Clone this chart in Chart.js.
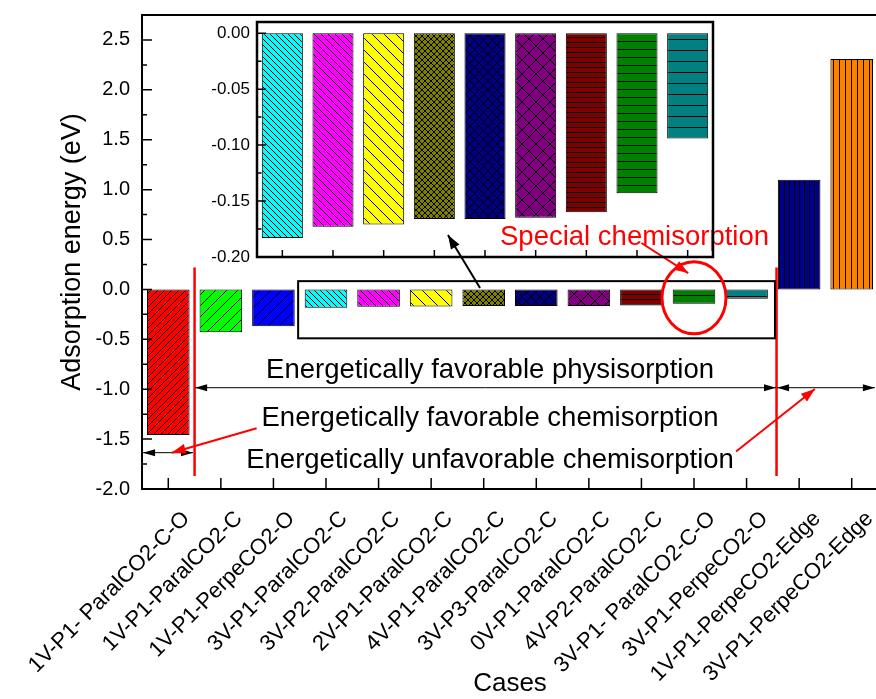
<!DOCTYPE html>
<html>
<head>
<meta charset="utf-8">
<script src="https://cdn.jsdelivr.net/npm/chart.js@4.4.1/dist/chart.umd.min.js"></script>
<style>
  html, body { margin: 0; padding: 0; background: #fff; overflow: hidden; }
  #wrap { position: relative; width: 876px; height: 699px; overflow: hidden; background: #fff; }
  #main { position: absolute; left: 0; top: 0; width: 890px; height: 699px; }
  #inset { position: absolute; left: 200px; top: 18px; width: 520px; height: 250px; }
</style>
</head>
<body>
<div id="wrap">
  <div id="main"><canvas id="mainChart"></canvas></div>
  <div id="inset"><canvas id="insetChart"></canvas></div>
</div>
<script>
// adsorption cases and energies (eV)
const cases = [
  '1V-P1- ParalCO2-C-O', '1V-P1-ParalCO2-C', '1V-P1-PerpeCO2-O', '3V-P1-ParalCO2-C',
  '3V-P2-ParalCO2-C', '2V-P1-ParalCO2-C', '4V-P1-ParalCO2-C', '3V-P3-ParalCO2-C',
  '0V-P1-ParalCO2-C', '4V-P2-ParalCO2-C', '3V-P1- ParalCO2-C-O', '3V-P1-PerpeCO2-O',
  '1V-P1-PerpeCO2-Edge', '3V-P1-PerpeCO2-Edge'
];
const energies = [-1.46, -0.43, -0.37, -0.183, -0.173, -0.171, -0.166, -0.166, -0.165, -0.160, -0.143, -0.094, 1.10, 2.31];

// zoomed inset shows the physisorption cases only
const insetCases = cases.slice(3, 12);
const insetEnergies = energies.slice(3, 12);

const barColors = ['#FF0000', '#00FF00', '#0000FF', '#00FFFF', '#FF00FF', '#FFFF00', '#808000',
                   '#000080', '#800080', '#800000', '#008000', '#008080', '#00008C', '#FF8000'];
const hatchKinds = ['/', '/', '/', '\\', '\\', '\\', 'x', 'x', 'x', '-', '-', '-', '|', '|'];
const hatchGaps = [7, 11, 11, 6, 7, 12, 6, 9, 14, 5, 8, 11, 5, 6];

Chart.defaults.font.family = "'Liberation Sans', Arial, sans-serif";
Chart.defaults.color = '#000';

function hatch(color, kind, s) {
  const c = document.createElement('canvas');
  c.width = s; c.height = s;
  const g = c.getContext('2d');
  g.fillStyle = color;
  g.fillRect(0, 0, s, s);
  g.strokeStyle = '#000';
  g.lineWidth = 1;
  g.beginPath();
  if (kind === '/' || kind === 'x') {
    g.moveTo(-1, s + 1); g.lineTo(s + 1, -1);
    g.moveTo(-1, 1); g.lineTo(1, -1);
    g.moveTo(s - 1, s + 1); g.lineTo(s + 1, s - 1);
  }
  if (kind === '\\' || kind === 'x') {
    g.moveTo(-1, -1); g.lineTo(s + 1, s + 1);
    g.moveTo(s - 1, -1); g.lineTo(s + 1, 1);
    g.moveTo(-1, s - 1); g.lineTo(1, s + 1);
  }
  if (kind === '-') { g.moveTo(0, s - 0.5); g.lineTo(s, s - 0.5); }
  if (kind === '|') { g.moveTo(s - 0.5, 0); g.lineTo(s - 0.5, s); }
  g.stroke();
  return g.createPattern(c, 'repeat');
}

const fills = energies.map((_, i) => hatch(barColors[i], hatchKinds[i], hatchGaps[i]));

// frame round the plot area plus inward tick marks (major + minor on y)
function frameTicks(id, frameWidth, majorStep, majorLen, xLen) {
  return {
    id: id,
    afterDatasetsDraw(chart) {
      const { ctx, chartArea: a, scales: { x, y } } = chart;
      ctx.save();
      ctx.strokeStyle = '#000';
      ctx.lineWidth = frameWidth;
      ctx.strokeRect(a.left, a.top, a.right - a.left, a.bottom - a.top);
      ctx.lineWidth = 1.5;
      ctx.beginPath();
      const minor = majorStep / 2;
      const k0 = Math.ceil(y.min / minor - 1e-6), k1 = Math.floor(y.max / minor + 1e-6);
      for (let k = k0; k <= k1; k++) {
        const py = y.getPixelForValue(k * minor);
        ctx.moveTo(a.left, py);
        ctx.lineTo(a.left + (k % 2 === 0 ? majorLen : majorLen / 2), py);
      }
      for (let i = 0; i < chart.data.labels.length; i++) {
        const px = x.getPixelForValue(i);
        ctx.moveTo(px, a.bottom);
        ctx.lineTo(px, a.bottom - xLen);
      }
      ctx.stroke();
      ctx.restore();
    }
  };
}

function arrowHead(ctx, x1, y1, x2, y2, len, half) {
  const a = Math.atan2(y2 - y1, x2 - x1);
  const bx = x2 - len * Math.cos(a), by = y2 - len * Math.sin(a);
  ctx.beginPath();
  ctx.moveTo(x2, y2);
  ctx.lineTo(bx + half * Math.sin(a), by - half * Math.cos(a));
  ctx.lineTo(bx - half * Math.sin(a), by + half * Math.cos(a));
  ctx.closePath();
  ctx.fill();
}

function arrow(ctx, p, q, color, width, len, half, both) {
  ctx.strokeStyle = color;
  ctx.fillStyle = color;
  ctx.lineWidth = width;
  ctx.beginPath();
  ctx.moveTo(p[0], p[1]);
  ctx.lineTo(q[0], q[1]);
  ctx.stroke();
  arrowHead(ctx, p[0], p[1], q[0], q[1], len, half);
  if (both) arrowHead(ctx, q[0], q[1], p[0], p[1], len, half);
}

// annotation anchors, in (category index, energy) units
const annotate = {
  id: 'annotate',
  afterDraw(chart) {
    const { ctx, scales: { x, y } } = chart;
    const P = (i, v) => [x.getPixelForValue(i), y.getPixelForValue(v)];
    ctx.save();

    // red separators
    ctx.strokeStyle = '#FF0000';
    ctx.lineWidth = 2.5;
    [0.5, 11.57].forEach(at => {
      const a = P(at, 0.22), b = P(at, -1.87);
      ctx.beginPath(); ctx.moveTo(a[0], a[1]); ctx.lineTo(b[0], b[1]); ctx.stroke();
    });

    // box round the zoomed bars
    ctx.strokeStyle = '#000';
    ctx.lineWidth = 2;
    const b0 = P(2.47, 0.083), b1 = P(11.54, -0.49);
    ctx.strokeRect(b0[0], b0[1], b1[0] - b0[0], b1[1] - b0[1]);

    arrow(ctx, P(5.93, 0.014), P(5.32, 0.545), '#000', 2, 14, 5, false);
    arrow(ctx, P(9.0, 0.465), P(9.89, 0.164), '#FF0000', 2, 14, 5, false);

    // special chemisorption circle
    const c = P(10.0, -0.083);
    ctx.strokeStyle = '#FF0000';
    ctx.lineWidth = 3;
    ctx.beginPath();
    ctx.ellipse(c[0], c[1], 32, 36, 0, 0, Math.PI * 2);
    ctx.stroke();

    // range arrows
    arrow(ctx, P(0.51, -0.985), P(11.56, -0.985), '#000', 1, 12, 3.5, true);
    arrow(ctx, P(11.58, -0.985), P(13.44, -0.985), '#000', 1, 12, 3.5, true);
    arrow(ctx, P(-0.48, -1.636), P(0.47, -1.636), '#000', 1, 12, 3.5, true);
    arrow(ctx, P(1.68, -1.392), P(0.065, -1.636), '#FF0000', 2, 14, 5, false);
    arrow(ctx, P(10.8, -1.624), P(12.3, -0.998), '#FF0000', 2, 14, 5, false);

    ctx.font = "27.5px 'Liberation Sans', Arial, sans-serif";
    ctx.textBaseline = 'alphabetic';
    ctx.fillStyle = '#FF0000';
    ctx.textAlign = 'left';
    let t = P(6.31, 0.45);
    ctx.fillText('Special chemisorption', t[0], t[1]);
    ctx.fillStyle = '#000';
    ctx.textAlign = 'center';
    t = P(6.12, -0.888);
    ctx.fillText('Energetically favorable physisorption', t[0], t[1]);
    t = P(6.12, -1.366);
    ctx.fillText('Energetically favorable chemisorption', t[0], t[1]);
    t = P(6.12, -1.785);
    ctx.fillText('Energetically unfavorable chemisorption', t[0], t[1]);
    ctx.restore();
  }
};

new Chart(document.getElementById('mainChart'), {
  type: 'bar',
  data: {
    labels: cases,
    datasets: [{
      data: energies,
      backgroundColor: fills,
      borderColor: '#000',
      borderWidth: 1,
      borderSkipped: false,
      barPercentage: 0.81,
      categoryPercentage: 1
    }]
  },
  options: {
    responsive: true,
    maintainAspectRatio: false,
    animation: false,
    layout: { padding: { top: 15, right: 12, bottom: 0, left: 0 } },
    plugins: { legend: { display: false }, tooltip: { enabled: false } },
    scales: {
      x: {
        grid: { display: false, drawTicks: false },
        border: { display: false },
        ticks: { font: { size: 22 }, minRotation: 45, maxRotation: 45, autoSkip: false,
                 padding: 17, labelOffset: 18 },
        title: { display: true, text: 'Cases', font: { size: 26 }, padding: 0 },
        afterFit: s => { s.height = 210; s.paddingLeft = 0; s.paddingRight = 0; }
      },
      y: {
        min: -2,
        max: 2.75,
        grid: { display: false, drawTicks: false },
        border: { display: false },
        ticks: { stepSize: 0.5, includeBounds: false, font: { size: 20 }, padding: 12,
                 callback: v => v.toFixed(1) },
        title: { display: true, text: 'Adsorption energy (eV)', font: { size: 27 },
                 padding: { top: 56, bottom: 0 } },
        afterFit: s => { s.width = 142; s.paddingTop = 0; s.paddingBottom = 0; }
      }
    }
  },
  plugins: [frameTicks('mainFrame', 2, 0.5, 10, 11), annotate]
});

new Chart(document.getElementById('insetChart'), {
  type: 'bar',
  data: {
    labels: insetCases,
    datasets: [{
      data: insetEnergies,
      backgroundColor: fills.slice(3, 12),
      borderColor: '#000',
      borderWidth: 1,
      borderSkipped: false,
      barPercentage: 0.81,
      categoryPercentage: 1
    }]
  },
  options: {
    responsive: true,
    maintainAspectRatio: false,
    animation: false,
    layout: { padding: { top: 4, right: 7, bottom: 0, left: 0 } },
    plugins: { legend: { display: false }, tooltip: { enabled: false } },
    scales: {
      x: {
        grid: { display: false, drawTicks: false },
        border: { display: false },
        ticks: { display: false },
        afterFit: s => { s.height = 11; }
      },
      y: {
        min: -0.2,
        max: 0.01,
        grid: { display: false, drawTicks: false },
        border: { display: false },
        ticks: { stepSize: 0.05, includeBounds: false, font: { size: 17 }, padding: 7,
                 callback: v => v.toFixed(2) },
        afterFit: s => { s.width = 57; s.paddingTop = 0; s.paddingBottom = 0; }
      }
    }
  },
  plugins: [frameTicks('insetFrame', 2.5, 0.05, 9, 7)]
});
</script>
</body>
</html>
